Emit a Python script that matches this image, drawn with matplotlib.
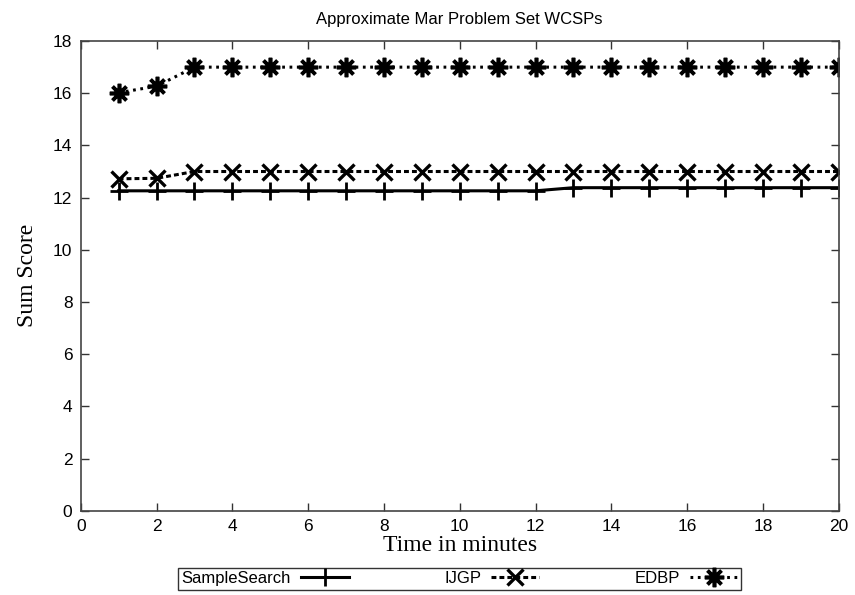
import matplotlib
matplotlib.use("Agg")
import matplotlib.pyplot as plt

# -----------------------
# Data
# -----------------------
minutes = list(range(1, 21))
sample_search = [12.26] * 12 + [12.38] * 8
ijgp = [12.72, 12.74] + [13.0] * 18
edbp = [16.02, 16.27] + [17.0] * 18

x_ticks = list(range(0, 21, 2))
y_ticks = list(range(0, 19, 2))

plt.rcParams["font.family"] = ["Liberation Sans", "DejaVu Sans"]

fig = plt.figure(figsize=(8.55, 5.95), dpi=100)
ax = fig.add_axes([0.0944, 0.1417, 0.8866, 0.7893])

ax.plot(minutes, sample_search, color="black", lw=2.2, marker="+",
        ms=13, mew=2.0, label="SampleSearch")
ax.plot(minutes, ijgp, color="black", lw=2.2, ls=(0, (1.6, 1.0)), marker="x",
        ms=11, mew=2.4, label="IJGP")
ax.plot(minutes, edbp, color="black", lw=2.2, ls=(0, (0.9, 1.5)), marker=(8, 2, 0),
        ms=14, mew=2.6, label="EDBP")

ax.set_xlim(0, 20)
ax.set_ylim(0, 18)
ax.set_xticks(x_ticks)
ax.set_yticks(y_ticks)
ax.tick_params(direction="in", length=6, width=1, top=True, right=True,
               labelsize=12.5, pad=6, colors="#333333", labelcolor="black")
for s in ax.spines.values():
    s.set_color("#444444")
    s.set_linewidth(1.2)

ax.set_title("Approximate Mar Problem Set WCSPs", fontsize=12, pad=12)
ax.set_xlabel("Time in minutes", fontsize=17, family="Liberation Serif", labelpad=1)
ax.set_ylabel("Sum Score", fontsize=17, family="Liberation Serif", labelpad=11)

leg = ax.legend(loc="upper center", bbox_to_anchor=(0.5, -0.122), ncol=3,
                markerfirst=False, frameon=True, fancybox=False, fontsize=12,
                handlelength=2.9, handletextpad=0.6, columnspacing=5.7,
                borderpad=0.2, borderaxespad=0)
leg.get_frame().set_edgecolor("black")
leg.get_frame().set_linewidth(1.0)

fig.savefig("out.png", dpi=100)
